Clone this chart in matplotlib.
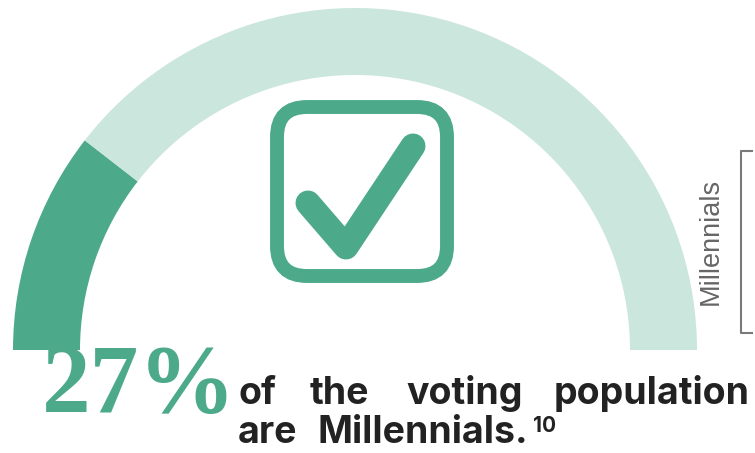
import matplotlib.pyplot as plt
from matplotlib.patches import FancyBboxPatch

# gauge: share of the half ring drawn dark vs light (as drawn in the source)
gauge_labels = ["Millennials", "Others"]
gauge_values = [21, 79]
headline = "27%"
line1_words = ["of", "the", "voting", "population"]
line2_words = ["are", "Millennials."]
footnote = "10"
side_label = "Millennials"

DARK = "#4caa8b"
LIGHT = "#cae6dd"
INK = "#222222"
GRAY = "#666666"
CAPTION_FONT = "Inter"

W, H = 755, 453


def Y(y):
    """image y (top-down) -> axes y (bottom-up)"""
    return H - y


fig = plt.figure(figsize=(W / 100, H / 100), dpi=100)
ax = fig.add_axes([0, 0, 1, 1])

# half-donut gauge, bottom half hidden
ax.pie(gauge_values + [sum(gauge_values)], colors=[DARK, LIGHT, "none"],
       startangle=180, counterclock=False, radius=342, center=(355, Y(350)),
       wedgeprops=dict(width=67, linewidth=0), frame=True)

# checkbox icon
box = FancyBboxPatch((277, Y(276)), 170, 169,
                     boxstyle="round,pad=0,rounding_size=30",
                     fill=False, ec=DARK, lw=10)
ax.add_patch(box)
ax.plot([308, 346, 413], [Y(203), Y(247), Y(146)], color=DARK, lw=18,
        solid_capstyle="round", solid_joinstyle="round")

# side label + bracket
ax.text(711, Y(241), side_label, rotation=90, ha="center", va="center",
        fontsize=19.5, color=GRAY, family="Liberation Sans")
ax.plot([752, 741, 741, 752], [Y(151), Y(151), Y(333), Y(333)],
        color="#7a7a7a", lw=1.5)

# big number
ax.text(42, Y(412), headline, ha="left", va="baseline", fontsize=70,
        fontweight="bold", color=DARK, family="Liberation Serif")

# justified caption, word by word (last word of line 1 flush right)
line1_x = [238, 310, 406, 750]
for i, (word, x) in enumerate(zip(line1_words, line1_x)):
    ax.text(x, Y(404), word, ha="right" if i == len(line1_words) - 1 else "left",
            va="baseline", fontsize=27, fontweight="bold", color=INK,
            family=CAPTION_FONT)
last = None
for word, x in zip(line2_words, [238, 318]):
    last = ax.text(x, Y(443), word, ha="left", va="baseline", fontsize=27,
                   fontweight="bold", color=INK, family=CAPTION_FONT)
# footnote mark right after the last word
ax.annotate(footnote, xy=(1, 0), xycoords=last, xytext=(3, 14),
            textcoords="offset points", ha="left", va="baseline",
            fontsize=15, fontweight="bold", color=INK, family=CAPTION_FONT)

ax.set_xlim(0, W)
ax.set_ylim(0, H)
ax.set_aspect("equal")
ax.axis("off")

fig.savefig("out.png", dpi=100)
